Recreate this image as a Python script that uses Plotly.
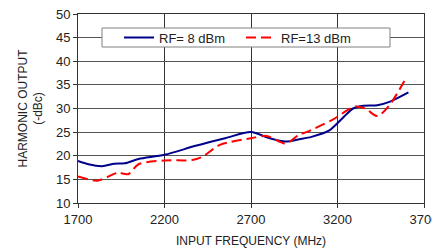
import plotly.graph_objects as go

freq_8 = [1700, 1760, 1840, 1910, 1970, 2050, 2200, 2380, 2550, 2700, 2800, 2900, 2980, 3050, 3150, 3230, 3290, 3350, 3430, 3500, 3610]
rf_8 = [18.9, 18.2, 17.8, 18.3, 18.4, 19.3, 20.2, 22.1, 23.7, 25.0, 23.8, 23.0, 23.5, 24.0, 25.3, 28.0, 30.0, 30.6, 30.7, 31.4, 33.4]

freq_13 = [1700, 1810, 1870, 1930, 1990, 2050, 2200, 2360, 2420, 2520, 2700, 2790, 2900, 2980, 3020, 3170, 3300, 3360, 3430, 3500, 3600]
rf_13 = [15.6, 14.7, 15.5, 16.4, 16.1, 18.2, 19.0, 19.1, 19.8, 22.3, 23.7, 24.2, 22.6, 24.5, 25.0, 27.6, 30.4, 30.0, 28.4, 30.7, 36.7]

x_ticks = [1700, 2200, 2700, 3200, 3700]
y_ticks = [10, 15, 20, 25, 30, 35, 40, 45, 50]

font = "Liberation Sans, Arial, sans-serif"

# page body has an 8px default margin, so the figure is 8px smaller than the window
fig = go.Figure()
fig.add_trace(go.Scatter(x=freq_8, y=rf_8, mode="lines", name="RF= 8 dBm",
                         line=dict(color="#00008B", width=2, shape="spline", smoothing=0.8)))
fig.add_trace(go.Scatter(x=freq_13, y=rf_13, mode="lines", name="RF=13 dBm",
                         line=dict(color="#FF0000", width=2, dash="10px,5px", shape="spline", smoothing=0.8)))

fig.add_shape(type="rect", xref="paper", yref="paper",
              x0=(102 - 78) / 346, x1=(390 - 78) / 346,
              y0=(203 - 47) / 189, y1=(203 - 28) / 189,
              line=dict(color="#808080", width=1), fillcolor="white", layer="above")

fig.update_layout(
    width=432, height=240,
    margin=dict(l=70, r=16, t=6, b=45, autoexpand=False),
    paper_bgcolor="white", plot_bgcolor="white",
    font=dict(family=font, size=13, color="#222"),
    showlegend=True,
    legend=dict(orientation="h", x=(119 - 78) / 346, y=(203 - 37.5) / 189,
                xanchor="left", yanchor="middle", bgcolor="rgba(0,0,0,0)",
                borderwidth=0, font=dict(size=13), entrywidth=77, entrywidthmode="pixels",
                itemwidth=30),
    xaxis=dict(range=[1700, 3700], tickvals=x_ticks, ticktext=[str(v) for v in x_ticks],
               showgrid=True, gridcolor="#333", gridwidth=1,
               showline=True, linecolor="#333", linewidth=1, mirror=True,
               ticks="outside", ticklen=4, tickcolor="#333", zeroline=False,
               ticklabeloverflow="allow",
               title=dict(text="INPUT FREQUENCY (MHz)", font=dict(size=12), standoff=13)),
    yaxis=dict(range=[10, 50], tickvals=y_ticks,
               showgrid=True, gridcolor="#555", gridwidth=1,
               showline=True, linecolor="#333", linewidth=1, mirror=True,
               ticks="outside", ticklen=4, tickcolor="#333", zeroline=False,
               ticklabeloverflow="allow",
               title=dict(text="HARMONIC OUTPUT<br>(-dBc)", font=dict(size=12), standoff=10)),
)

fig.write_html("out.html")
